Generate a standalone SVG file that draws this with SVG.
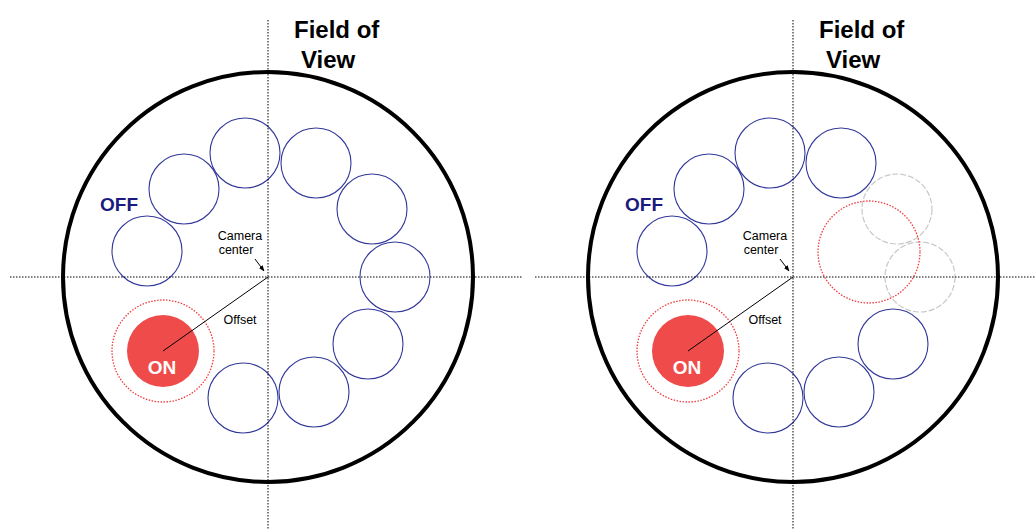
<svg xmlns="http://www.w3.org/2000/svg" width="1035" height="530" viewBox="0 0 1035 530">
<defs>
<style>
.axis{stroke:#000;stroke-width:1;stroke-dasharray:1.5,1.5;fill:none}
.fov{fill:none;stroke:#000;stroke-width:4}
.off{fill:none;stroke:#33389a;stroke-width:1.1}
.ghost{fill:none;stroke:#c8c8c8;stroke-width:1.2;stroke-dasharray:6,2}
.ring{fill:none;stroke:#ef3b3b;stroke-width:1.3;stroke-dasharray:1.5,1.5}
.on{fill:#ef4b4b}
.title{font-family:"Liberation Sans",Arial,sans-serif;font-weight:bold;font-size:24px;fill:#000}
.lbl{font-family:"Liberation Sans",Arial,sans-serif;font-size:12.5px;fill:#000}
.offt{font-family:"Liberation Sans",Arial,sans-serif;font-weight:bold;font-size:19px;fill:#1a1a80}
.ont{font-family:"Liberation Sans",Arial,sans-serif;font-weight:bold;font-size:19px;fill:#fff}
.ptr{stroke:#000;stroke-width:1;fill:none}
</style>
<marker id="ah" viewBox="0 0 10 10" refX="9" refY="5" markerWidth="6" markerHeight="6" orient="auto"><path d="M0,1 L10,5 L0,9 z" fill="#000"/></marker>
</defs>
<rect width="1035" height="530" fill="#fff"/>
<g id="left-fov">
<circle class="fov" cx="268" cy="277" r="205"/>
<text class="title" x="294" y="38">Field of</text>
<text class="title" x="301" y="68">View</text>
</g>
<g id="left-off">
<circle class="off" cx="245" cy="153" r="35"/>
<circle class="off" cx="316" cy="163" r="35"/>
<circle class="off" cx="184" cy="189" r="35"/>
<circle class="off" cx="372" cy="209" r="35"/>
<circle class="off" cx="147" cy="251" r="35"/>
<circle class="off" cx="395" cy="277" r="35"/>
<circle class="off" cx="368" cy="344" r="35"/>
<circle class="off" cx="314" cy="392" r="35"/>
<circle class="off" cx="243" cy="398" r="35"/>
<text class="offt" x="100" y="211">OFF</text>
</g>
<g id="left-on">
<circle class="ring" cx="163" cy="351" r="51"/>
<circle class="on" cx="163" cy="351" r="36"/>
<text class="ont" x="162" y="374" text-anchor="middle">ON</text>
</g>
<g id="left-labels">
<text class="lbl" x="240" y="240" text-anchor="middle">Camera</text>
<text class="lbl" x="236" y="254" text-anchor="middle">center</text>
<text class="lbl" x="240" y="324" text-anchor="middle">Offset</text>
</g>
<g id="right-fov">
<circle class="fov" cx="793" cy="277" r="205"/>
<text class="title" x="819" y="38">Field of</text>
<text class="title" x="826" y="68">View</text>
</g>
<g id="right-off">
<circle class="off" cx="770" cy="153" r="35"/>
<circle class="off" cx="841" cy="163" r="35"/>
<circle class="off" cx="709" cy="189" r="35"/>
<circle class="off" cx="672" cy="251" r="35"/>
<circle class="off" cx="893" cy="344" r="35"/>
<circle class="off" cx="839" cy="392" r="35"/>
<circle class="off" cx="768" cy="398" r="35"/>
<text class="offt" x="625" y="211">OFF</text>
</g>
<g id="right-ghost">
<circle class="ghost" cx="897" cy="209" r="35"/>
<circle class="ghost" cx="920" cy="277" r="35"/>
<circle class="ring" cx="869" cy="252" r="51"/>
</g>
<g id="right-on">
<circle class="ring" cx="688" cy="351" r="51"/>
<circle class="on" cx="688" cy="351" r="36"/>
<text class="ont" x="687" y="374" text-anchor="middle">ON</text>
</g>
<g id="right-labels">
<text class="lbl" x="765" y="240" text-anchor="middle">Camera</text>
<text class="lbl" x="761" y="254" text-anchor="middle">center</text>
<text class="lbl" x="765" y="324" text-anchor="middle">Offset</text>
</g>
<g id="connectors">
<line class="axis" x1="268" y1="20" x2="268" y2="530"/>
<line class="axis" x1="10" y1="277" x2="523" y2="277"/>
<line class="axis" x1="793" y1="20" x2="793" y2="530"/>
<line class="axis" x1="535" y1="277" x2="1035" y2="277"/>
<line class="ptr" x1="163" y1="351" x2="268" y2="277"/>
<line class="ptr" x1="255" y1="259" x2="264" y2="271" marker-end="url(#ah)"/>
<line class="ptr" x1="688" y1="351" x2="793" y2="277"/>
<line class="ptr" x1="780" y1="259" x2="789" y2="271" marker-end="url(#ah)"/>
</g>
</svg>
